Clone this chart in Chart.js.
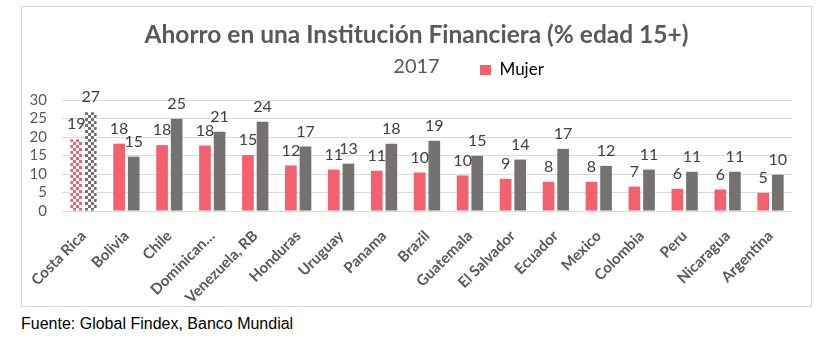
<!DOCTYPE html>
<html lang="es">
<head>
  <meta charset="UTF-8">
  <title>Ahorro en una Institución Financiera</title>
  <script src="https://cdn.jsdelivr.net/npm/chart.js"></script>
  <style>
    body {
      margin: 0;
      background: #fff;
      width: 836px;
      height: 361px;
      position: relative;
      overflow: hidden;
    }
    #box {
      position: absolute;
      left: 21px;
      top: 6px;
      width: 789px;
      height: 299px;
      border: 1px solid #d9d9d9;
    }
    #fuente {
      position: absolute;
      left: 21px;
      top: 315px;
      font-family: 'Liberation Sans', Arial, sans-serif;
      font-size: 16px;
      color: #000;
    }
  </style>
</head>
<body>
  <div id="box"><canvas id="chart" width="789" height="299"></canvas></div>
  <div id="fuente">Fuente: Global Findex, Banco Mundial</div>

  <script>
    const paises = ['Costa Rica', 'Bolivia', 'Chile', 'Dominican…', 'Venezuela, RB', 'Honduras',
      'Uruguay', 'Panama', 'Brazil', 'Guatemala', 'El Salvador', 'Ecuador', 'Mexico',
      'Colombia', 'Peru', 'Nicaragua', 'Argentina'];
    const mujer = [19.4, 18.2, 17.8, 17.7, 15.1, 12.3, 11.2, 10.9, 10.4, 9.6, 8.7, 7.9, 7.9, 6.6, 6.0, 5.8, 4.9];
    const hombre = [26.7, 14.7, 24.9, 21.4, 24.1, 17.4, 12.8, 18.2, 19.0, 14.9, 13.9, 16.8, 12.2, 11.2, 10.6, 10.6, 9.8];
    const yTicks = [0, 5, 10, 15, 20, 25, 30];

    const ROSA = '#f4606e';
    const GRIS = '#767171';
    const TEXTO = '#595959';
    const FONT = 'Lato';

    // checkered fill for Costa Rica
    function cuadros(color) {
      const c = document.createElement('canvas');
      c.width = 6; c.height = 6;
      const g = c.getContext('2d');
      g.fillStyle = '#fff';
      g.fillRect(0, 0, 6, 6);
      g.fillStyle = color;
      g.fillRect(0, 0, 3, 3);
      g.fillRect(3, 3, 3, 3);
      return g.createPattern(c, 'repeat');
    }
    const ctx = document.getElementById('chart').getContext('2d');
    const fillRosa = paises.map((p, i) => i === 0 ? cuadros(ROSA) : ROSA);
    const fillGris = paises.map((p, i) => i === 0 ? cuadros(GRIS) : GRIS);

    // value labels above bars
    const etiquetas = {
      id: 'etiquetas',
      afterDatasetsDraw(chart) {
        const c = chart.ctx;
        c.save();
        c.font = '16px ' + FONT;
        c.fillStyle = '#404040';
        c.textAlign = 'center';
        c.textBaseline = 'middle';
        chart.data.datasets.forEach((ds, di) => {
          chart.getDatasetMeta(di).data.forEach((bar, i) => {
            c.fillText(Math.round(ds.data[i]), bar.x, bar.y - 15);
          });
        });
        c.restore();
      }
    };

    // move the legend to the right of "2017"
    const moverLeyenda = {
      id: 'moverLeyenda',
      afterLayout(chart) {
        const lg = chart.legend;
        lg.left = 458 - lg.options.labels.padding;
      }
    };

    new Chart(ctx, {
      type: 'bar',
      data: {
        labels: paises,
        datasets: [
          { label: 'Mujer', data: mujer, backgroundColor: fillRosa },
          { label: 'Hombre', data: hombre, backgroundColor: fillGris }
        ]
      },
      options: {
        responsive: false,
        animation: false,
        datasets: { bar: { barPercentage: 0.8, categoryPercentage: 0.68 } },
        layout: { padding: 0 },
        plugins: {
          title: {
            display: true,
            text: 'Ahorro en una Institución Financiera (% edad 15+)',
            color: TEXTO,
            font: { family: FONT, size: 24.5, weight: 'bold' },
            padding: { top: 13, bottom: 4 }
          },
          legend: {
            display: true,
            align: 'start',
            weight: 1000,
            labels: {
              color: TEXTO,
              font: { family: FONT, size: 17 },
              boxWidth: 11,
              boxHeight: 10,
              padding: 8,
              filter: item => item.text === 'Mujer',
              generateLabels: chart => [{
                text: 'Mujer', fillStyle: ROSA, strokeStyle: ROSA, lineWidth: 0, datasetIndex: 0
              }, {
                text: 'Hombre', fillStyle: GRIS, strokeStyle: GRIS, lineWidth: 0, datasetIndex: 1
              }]
            }
          },
          subtitle: {
            display: true,
            text: '2017',
            weight: 500,
            color: TEXTO,
            font: { family: FONT, size: 20 },
            padding: { top: -33.4, bottom: 21 }
          },
          tooltip: { enabled: false }
        },
        scales: {
          x: {
            grid: { display: false },
            border: { display: false },
            ticks: {
              autoSkip: false,
              minRotation: 45,
              maxRotation: 45,
              padding: 8,
              color: TEXTO,
              font: { family: FONT, size: 15, weight: 'bold' }
            },
            afterFit(s) { s.height = 95; }
          },
          y: {
            min: 0,
            max: 30,
            grid: { color: '#d9d9d9', drawTicks: false },
            border: { display: false },
            afterBuildTicks(s) { s.ticks = yTicks.map(v => ({ value: v })); },
            ticks: {
              autoSkip: false,
              padding: 15,
              color: TEXTO,
              font: { family: FONT, size: 15 }
            },
            afterFit(s) { s.width = 40; }
          },
          margen: {
            position: 'right',
            display: true,
            grid: { display: false },
            border: { display: false },
            ticks: { display: false },
            afterFit(s) { s.width = 19; }
          }
        }
      },
      plugins: [etiquetas, moverLeyenda]
    });
  </script>
</body>
</html>
